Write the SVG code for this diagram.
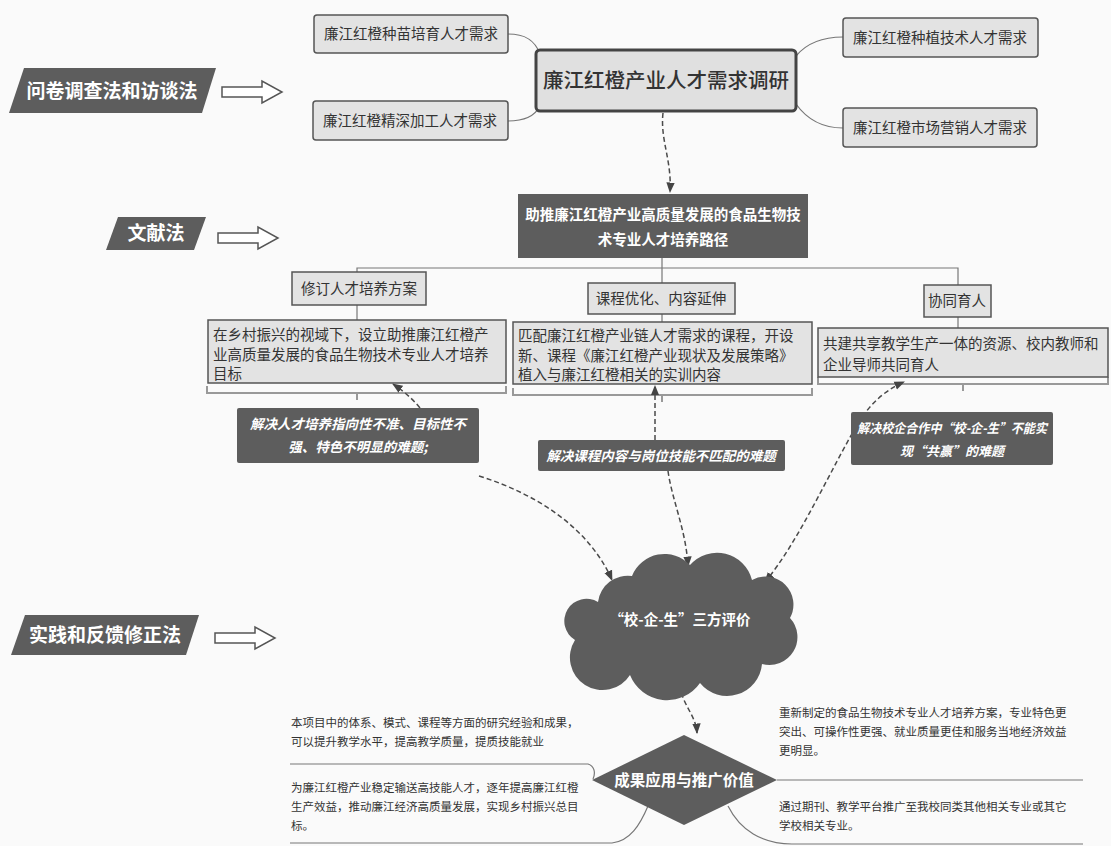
<svg xmlns="http://www.w3.org/2000/svg" width="1111" height="846" viewBox="0 0 1111 846">
<style>
.t{font-family:"Noto Sans CJK SC","Noto Sans",sans-serif;fill:#333}
.w{fill:#fff;font-weight:bold}
.lb{fill:#e3e3e3;stroke:#555;stroke-width:1.5}
.dk{fill:#5d5d5d}
.ln{fill:none;stroke:#777;stroke-width:1.2}
.dl{fill:none;stroke:#4a4a4a;stroke-width:1.5;stroke-dasharray:5 3}
.br{fill:none;stroke:#999;stroke-width:2}
.ha{fill:#fff;stroke:#555;stroke-width:1.5}
</style>
<defs>
<marker id="ah" viewBox="0 0 10 10" refX="9" refY="5" markerWidth="7" markerHeight="7" orient="auto-start-reverse"><path d="M0,1 L10,5 L0,9 Z" fill="#444"/></marker>
<path id="harrow" d="M0,6 H40 V0 L60,11 L40,22 V16 H0 Z"/>
</defs>
<rect width="1111" height="846" fill="#fafafa"/>

<g id="connectors">
<path class="ln" d="M508,34 C525,34 535,40 540,54"/>
<path class="ln" d="M508,121 C525,121 535,116 540,106"/>
<path class="ln" d="M796,56 C806,44 820,37 843,37"/>
<path class="ln" d="M796,104 C806,118 820,128 843,128"/>
<path class="dl" d="M663,113 C660,140 672,160 670,192" marker-end="url(#ah)"/>
<path class="ln" d="M357,272 V268 H958 V285 M662,258 V283 M357,305 V320 M662,314 V322 M958,317 V328"/>
<path class="br" d="M207,386 V393 H506 V386 M357,393 V400"/>
<path class="br" d="M513,388 V395 H812 V388 M662,395 V402"/>
<path class="br" d="M818,377 V384 H1108 V377 M963,384 V391"/>
<path class="dl" d="M420,408 C412,398 402,390 393,384" marker-end="url(#ah)"/>
<path class="dl" d="M479,476 C540,495 590,530 612,580" marker-end="url(#ah)"/>
<path class="dl" d="M655,440 V386" marker-end="url(#ah)"/>
<path class="dl" d="M668,471 C672,500 686,530 688,566" marker-end="url(#ah)"/>
<path class="dl" d="M765,582 C800,540 830,470 860,420 C875,398 890,388 904,382" marker-start="url(#ah)" marker-end="url(#ah)"/>
<path class="dl" d="M680,685 C682,705 696,715 697,733" marker-end="url(#ah)"/>
<path class="ln" d="M290,764 H588 C594,766 596,772 593,779"/>
<path class="ln" d="M648,806 C640,825 630,841 612,843 H290"/>
<path class="ln" d="M777,780 H1083"/>
<path class="ln" d="M728,806 C740,830 762,844 792,844 H1083"/>
<use href="#harrow" class="ha" x="222" y="81"/>
<use href="#harrow" class="ha" x="218" y="227"/>
<use href="#harrow" class="ha" x="215" y="627"/>
</g>

<g id="m1"><polygon class="dk" points="24,68 216,68 202,113 9,113"/><text class="t w" x="112" y="98" font-size="19" text-anchor="middle">问卷调查法和访谈法</text></g>
<g id="m2"><polygon class="dk" points="118,217 206,217 194,250 106,250"/><text class="t w" x="156" y="240" font-size="19" text-anchor="middle">文献法</text></g>
<g id="m3"><polygon class="dk" points="25,615 199,615 186,655 11,655"/><text class="t w" x="105" y="642" font-size="19" text-anchor="middle">实践和反馈修正法</text></g>

<g id="n1"><rect class="lb" x="314" y="15" width="194" height="38" rx="3"/><text class="t" x="411" y="39" font-size="14.5" text-anchor="middle">廉江红橙种苗培育人才需求</text></g>
<g id="n2"><rect class="lb" x="313" y="101" width="195" height="39" rx="3"/><text class="t" x="410" y="126" font-size="14.5" text-anchor="middle">廉江红橙精深加工人才需求</text></g>
<g id="n3"><rect x="536" y="50" width="260" height="61" rx="4" fill="#e0e0e0" stroke="#444" stroke-width="3"/><text class="t" x="666" y="88" font-size="20.5" text-anchor="middle" font-weight="500">廉江红橙产业人才需求调研</text></g>
<g id="n4"><rect class="lb" x="843" y="18" width="195" height="39" rx="3"/><text class="t" x="940" y="43" font-size="14.5" text-anchor="middle">廉江红橙种植技术人才需求</text></g>
<g id="n5"><rect class="lb" x="843" y="108" width="194" height="39" rx="3"/><text class="t" x="940" y="133" font-size="14.5" text-anchor="middle">廉江红橙市场营销人才需求</text></g>

<g id="n6"><rect class="dk" x="518" y="194" width="290" height="64"/><text class="t w" font-size="14.5" text-anchor="middle"><tspan x="663" y="220">助推廉江红橙产业高质量发展的食品生物技</tspan><tspan x="663" y="245">术专业人才培养路径</tspan></text></g>

<g id="h1"><rect class="lb" x="292" y="272" width="134" height="33"/><text class="t" x="359" y="294" font-size="14.5" text-anchor="middle">修订人才培养方案</text></g>
<g id="h2"><rect class="lb" x="588" y="283" width="147" height="31"/><text class="t" x="661" y="304" font-size="14.5" text-anchor="middle">课程优化、内容延伸</text></g>
<g id="h3"><rect class="lb" x="924" y="285" width="67" height="32"/><text class="t" x="957" y="306" font-size="14.5" text-anchor="middle">协同育人</text></g>

<g id="d1"><rect class="lb" x="208" y="320" width="298" height="63"/><text class="t" font-size="14.5"><tspan x="213" y="340">在乡村振兴的视域下，设立助推廉江红橙产</tspan><tspan x="213" y="360">业高质量发展的食品生物技术专业人才培养</tspan><tspan x="213" y="379">目标</tspan></text></g>
<g id="d2"><rect class="lb" x="513" y="322" width="299" height="62"/><text class="t" font-size="14.5"><tspan x="518" y="341">匹配廉江红橙产业链人才需求的课程，开设</tspan><tspan x="518" y="361">新、课程《廉江红橙产业现状及发展策略》</tspan><tspan x="518" y="380">植入与廉江红橙相关的实训内容</tspan></text></g>
<g id="d3"><rect class="lb" x="818" y="328" width="290" height="49"/><text class="t" font-size="14.5"><tspan x="823" y="349">共建共享教学生产一体的资源、校内教师和</tspan><tspan x="823" y="370">企业导师共同育人</tspan></text></g>

<g id="p1"><rect class="dk" x="237" y="408" width="242" height="55" rx="2"/><text class="t w" font-size="13.5" font-style="italic" text-anchor="middle"><tspan x="358" y="429">解决人才培养指向性不准、目标性不</tspan><tspan x="358" y="452">强、特色不明显的难题;</tspan></text></g>
<g id="p2"><rect class="dk" x="538" y="440" width="247" height="31" rx="2"/><text class="t w" x="661" y="461" font-size="13.5" font-style="italic" text-anchor="middle">解决课程内容与岗位技能不匹配的难题</text></g>
<g id="p3"><rect class="dk" x="851" y="412" width="202" height="53" rx="2"/><text class="t w" font-size="13" font-style="italic" text-anchor="middle"><tspan x="952" y="433" textLength="190" lengthAdjust="spacingAndGlyphs">解决校企合作中“校-企-生”不能实</tspan><tspan x="952" y="456">现“共赢”的难题</tspan></text></g>

<g id="cloud"><path class="dk" d="M598,602 A30,30 0 0 1 632,576 A35,35 0 0 1 690,565 A36,36 0 0 1 752,580 A28,28 0 0 1 790,618 A28,28 0 0 1 762,664 A35,35 0 0 1 700,683 A40,40 0 0 1 630,675 A32,32 0 0 1 575,640 A22,22 0 0 1 598,602 Z"/><text class="t w" x="680" y="625" font-size="14.5" text-anchor="middle">“校-企-生”三方评价</text></g>

<g id="diamond"><polygon class="dk" points="684,735 777,780 684,825 592,780"/><text class="t w" x="684" y="786" font-size="15.5" text-anchor="middle">成果应用与推广价值</text></g>

<g id="b1"><text class="t" font-size="11.5"><tspan x="291" y="727">本项目中的体系、模式、课程等方面的研究经验和成果，</tspan><tspan x="291" y="746">可以提升教学水平，提高教学质量，提质技能就业</tspan></text></g>
<g id="b2"><text class="t" font-size="11.5"><tspan x="291" y="792">为廉江红橙产业稳定输送高技能人才，逐年提高廉江红橙</tspan><tspan x="291" y="811">生产效益，推动廉江经济高质量发展，实现乡村振兴总目</tspan><tspan x="291" y="830">标。</tspan></text></g>
<g id="b3"><text class="t" font-size="11.5"><tspan x="779" y="717">重新制定的食品生物技术专业人才培养方案，专业特色更</tspan><tspan x="779" y="736">突出、可操作性更强、就业质量更佳和服务当地经济效益</tspan><tspan x="779" y="755">更明显。</tspan></text></g>
<g id="b4"><text class="t" font-size="11.5"><tspan x="779" y="811">通过期刊、教学平台推广至我校同类其他相关专业或其它</tspan><tspan x="779" y="830">学校相关专业。</tspan></text></g>
</svg>
